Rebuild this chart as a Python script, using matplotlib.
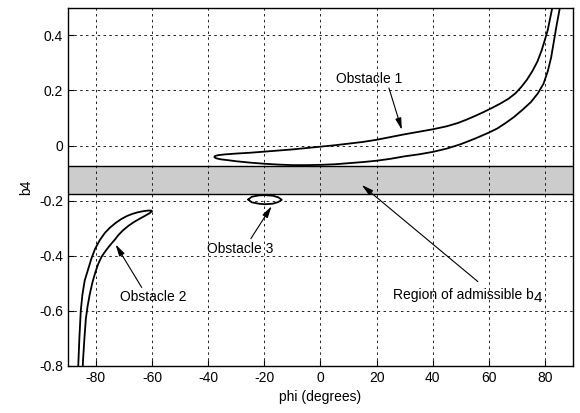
import matplotlib.pyplot as plt

plt.rcParams['font.family'] = ['Liberation Sans', 'DejaVu Sans']
plt.rcParams['axes.unicode_minus'] = False

# Obstacle 1 (closed contour: upper branch right->left, lower branch left->right)
obs1_phi = [83.3, 82.6, 81.8, 81.0, 80.0, 78.8, 77.3, 75.5, 73.5, 71.5, 69.5, 67.0, 64.0, 61.0,
            58.0, 55.0, 52.0, 49.0, 45.0, 40.0, 35.0, 30.0, 25.0, 20.0, 15.0, 10.0, 5.0, 0.0,
            -5.0, -10.0, -15.0, -20.0, -25.0, -30.0, -34.0, -36.5, -37.6, -37.8,
            -37.2, -35.5, -33.0, -30.0, -25.0, -20.0, -15.0, -10.0, -5.0, 0.0, 5.0, 10.0, 15.0,
            20.0, 25.0, 30.0, 35.0, 40.0, 45.0, 50.0, 55.0, 60.0, 63.0, 66.0, 69.0, 72.0, 75.0,
            77.5, 79.5, 81.0, 82.2, 83.2, 84.2, 85.3, 86.0, 83.3]
obs1_b = [0.56, 0.50, 0.46, 0.42, 0.385, 0.345, 0.305, 0.27, 0.238, 0.212, 0.19, 0.17, 0.152, 0.136,
          0.121, 0.107, 0.094, 0.082, 0.070, 0.059, 0.050, 0.041, 0.031, 0.021, 0.013, 0.007, 0.001, -0.004,
          -0.009, -0.014, -0.018, -0.022, -0.026, -0.029, -0.032, -0.035, -0.038, -0.042,
          -0.046, -0.050, -0.053, -0.057, -0.062, -0.066, -0.069, -0.071, -0.071, -0.070, -0.068, -0.064, -0.060,
          -0.055, -0.048, -0.039, -0.032, -0.023, -0.011, 0.005, 0.025, 0.047, 0.062, 0.082, 0.104, 0.130, 0.158,
          0.190, 0.225, 0.270, 0.320, 0.380, 0.440, 0.50, 0.56, 0.56]

# Obstacle 2 (outer branch bottom->tip, inner branch tip->bottom)
obs2_phi = [-86.8, -86.3, -85.9, -85.4, -84.8, -84.0, -82.8, -81.6, -80.3, -78.6, -76.8, -75.0,
            -73.0, -71.0, -69.0, -67.0, -65.0, -63.0, -61.5, -60.3, -60.0,
            -60.8, -62.5, -64.3, -66.5, -68.5, -70.5, -72.0, -73.3, -75.0, -76.6, -78.0, -79.2,
            -80.2, -81.2, -82.2, -83.0, -83.6, -84.1, -84.6, -84.9, -86.8]
obs2_b = [-0.86, -0.80, -0.70, -0.60, -0.54, -0.49, -0.45, -0.41, -0.375, -0.343, -0.317, -0.298,
          -0.281, -0.267, -0.256, -0.248, -0.242, -0.238, -0.236, -0.236, -0.238,
          -0.245, -0.255, -0.265, -0.278, -0.292, -0.309, -0.325, -0.342, -0.362, -0.383, -0.404, -0.43,
          -0.46, -0.495, -0.54, -0.585, -0.63, -0.70, -0.78, -0.86, -0.86]

# Obstacle 3 (small closed loop)
obs3_phi = [-25.7, -24.5, -22.0, -19.8, -17.0, -15.0, -13.8, -15.0, -17.0, -19.8, -22.0, -24.5, -25.7]
obs3_b = [-0.196, -0.186, -0.181, -0.180, -0.182, -0.188, -0.197, -0.205, -0.211, -0.213, -0.211, -0.206, -0.196]

# region of admissible b4
band_lo, band_hi = -0.177, -0.074

fig = plt.figure(figsize=(5.8, 4.13), dpi=100)
ax = fig.add_axes([0.117, 0.114, 0.871, 0.867])

ax.axhspan(band_lo, band_hi, facecolor='#cccccc', edgecolor='none', zorder=1)
ax.axhline(band_lo, color='k', lw=1.0, zorder=2)
ax.axhline(band_hi, color='k', lw=1.0, zorder=2)

ax.plot(obs1_phi, obs1_b, color='k', lw=1.3, zorder=3)
ax.plot(obs2_phi, obs2_b, color='k', lw=1.3, zorder=3)
ax.plot(obs3_phi, obs3_b, color='k', lw=1.3, zorder=3)

ax.set_xlim(-90, 90)
ax.set_ylim(-0.8, 0.5)
ax.set_xticks([-80, -60, -40, -20, 0, 20, 40, 60, 80])
ax.set_yticks([-0.8, -0.6, -0.4, -0.2, 0, 0.2, 0.4])
ax.set_yticklabels(['-0.8', '-0.6', '-0.4', '-0.2', '0', '0.2', '0.4'])
ax.tick_params(direction='in', length=4, labelsize=10, width=0.8)
ax.grid(True, color='k', linestyle=(0, (3, 4)), linewidth=0.6)
for s in ax.spines.values():
    s.set_linewidth(1.0)

ax.set_xlabel('phi (degrees)', fontsize=10)
ax.set_ylabel('b4', fontsize=10)

# Labels and arrows
arrow = dict(arrowstyle='-|>,head_length=0.7,head_width=0.18', color='k', lw=0.8,
             shrinkA=0, shrinkB=0)
ax.text(5.5, 0.228, 'Obstacle 1', fontsize=10, va='baseline', ha='left')
ax.annotate('', xy=(29.0, 0.057), xytext=(24.4, 0.209), arrowprops=arrow)
ax.text(-71.5, -0.563, 'Obstacle 2', fontsize=10, va='baseline', ha='left')
ax.annotate('', xy=(-73.0, -0.359), xytext=(-63.7, -0.515), arrowprops=arrow)
ax.text(-40.6, -0.39, 'Obstacle 3', fontsize=10, va='baseline', ha='left')
ax.annotate('', xy=(-17.4, -0.22), xytext=(-24.8, -0.338), arrowprops=arrow)
t = ax.text(25.8, -0.557, 'Region of admissible b', fontsize=10, va='baseline', ha='left')
ax.annotate('4', xy=(1, 0), xycoords=t, xytext=(0.3, -2.4), textcoords='offset points',
            fontsize=11, va='bottom', ha='left')
ax.annotate('', xy=(14.7, -0.143), xytext=(56.1, -0.494), arrowprops=arrow)

fig.savefig('out.png', dpi=100)
